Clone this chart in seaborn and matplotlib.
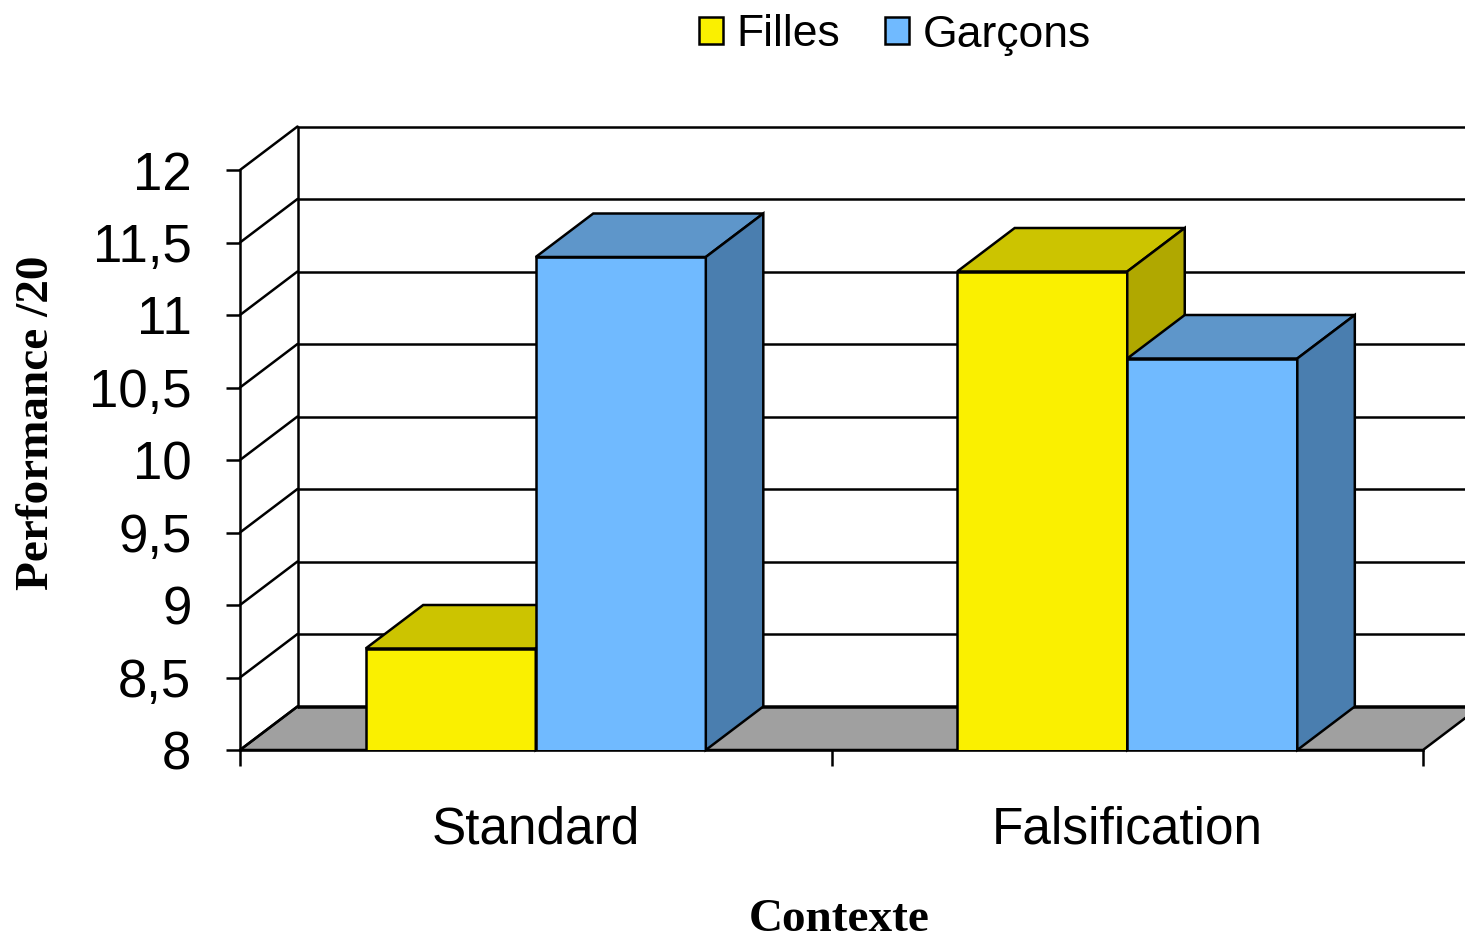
import numpy as np
import pandas as pd
import seaborn as sns
import matplotlib.pyplot as plt
from matplotlib.colors import to_rgb
from matplotlib.patches import Polygon, Patch

# data
contextes = ['Standard', 'Falsification']
groupes = ['Filles', 'Garçons']
filles = [8.7, 11.3]
garcons = [11.4, 10.7]

y_ticks = [8, 8.5, 9, 9.5, 10, 10.5, 11, 11.5, 12]
y_labels = ['8', '8,5', '9', '9,5', '10', '10,5', '11', '11,5', '12']

couleurs = {'Filles': '#FAF000', 'Garçons': '#70BAFF'}
dessus = {'Filles': '#CCC400', 'Garçons': '#5E96CA'}
cote = {'Filles': '#B0A800', 'Garçons': '#4A7EAF'}

data = pd.DataFrame({
    'Contexte': contextes * 2,
    'Sexe': ['Filles'] * 2 + ['Garçons'] * 2,
    'Performance': filles + garcons,
})

sns.set_style('white')
plt.rcParams['font.family'] = ['Liberation Sans', 'DejaVu Sans']
plt.rcParams['text.color'] = 'black'
plt.rcParams['xtick.labelcolor'] = 'black'
plt.rcParams['ytick.labelcolor'] = 'black'

LW = 1.8
W, H = 1465, 940
fig = plt.figure(figsize=(W / 100, H / 100), dpi=100)
ax_px = (240, 190, 1183, 580)  # left, bottom, width, height of the front plane
ax = fig.add_axes([ax_px[0] / W, ax_px[1] / H, ax_px[2] / W, ax_px[3] / H])

sns.barplot(data=data, x='Contexte', y='Performance', hue='Sexe',
            order=contextes, hue_order=groupes, palette=couleurs,
            width=0.575, saturation=1, edgecolor='black', linewidth=LW,
            legend=False, ax=ax)

ax.set_xlim(-0.5, 1.5)
ax.set_ylim(8, 12)

# depth of the 3D effect, converted from pixels to data units
dx = 57.5 / (ax_px[2] / 2.0)
dy = 43.5 / (ax_px[3] / 4.0)
x0, x1 = ax.get_xlim()
y0, y1 = ax.get_ylim()

# floor
ax.add_patch(Polygon([(x0, y0), (x1, y0), (x1 + dx, y0 + dy), (x0 + dx, y0 + dy)],
                     closed=True, facecolor='#A0A0A0', edgecolor='black',
                     linewidth=LW, zorder=1, clip_on=False))
# back wall gridlines and side wall diagonals
for y in y_ticks:
    ax.plot([x0 + dx, x1 + dx + 0.2], [y + dy, y + dy], color='black', lw=LW,
            zorder=1.5, clip_on=False)
    ax.plot([x0, x0 + dx], [y, y + dy], color='black', lw=LW, zorder=1.5, clip_on=False)
ax.plot([x0 + dx, x0 + dx], [y0 + dy, y1 + dy], color='black', lw=LW, zorder=1.5, clip_on=False)

# top and side faces of each bar, painted left to right
bars = sorted(ax.patches[:4], key=lambda p: p.get_x())
for i, p in enumerate(bars):
    g = 'Filles' if np.allclose(p.get_facecolor()[:3], to_rgb(couleurs['Filles'])) else 'Garçons'
    a, b = p.get_x(), p.get_x() + p.get_width()
    h = p.get_height()
    z = 3 + i
    p.set_zorder(z)
    ax.add_patch(Polygon([(a, h), (b, h), (b + dx, h + dy), (a + dx, h + dy)], closed=True,
                         facecolor=dessus[g], edgecolor='black', linewidth=LW,
                         zorder=z + 0.5, clip_on=False))
    ax.add_patch(Polygon([(b, y0), (b, h), (b + dx, h + dy), (b + dx, y0 + dy)], closed=True,
                         facecolor=cote[g], edgecolor='black', linewidth=LW,
                         zorder=z + 0.5, clip_on=False))

ax.spines[['top', 'right']].set_visible(False)
for s in ['left', 'bottom']:
    ax.spines[s].set_color('black')
    ax.spines[s].set_linewidth(LW)
    ax.spines[s].set_zorder(2)

ax.set_yticks(y_ticks, y_labels)
ax.tick_params(axis='y', left=True, length=10, width=LW, color='black',
               pad=25, labelsize=38)
ax.set_xticks([0, 1], contextes)
ax.set_xticks([-0.5, 0.5, 1.5], minor=True)
ax.tick_params(axis='x', which='major', length=0, pad=40, labelsize=37)
ax.tick_params(axis='x', which='minor', bottom=True, length=11.5, width=LW, color='black')
ax.set_xlabel('')
ax.set_ylabel('')

fig.text(37 / W, 1 - 423 / H, 'Performance /20', rotation=90, ha='center', va='center',
         family=['Liberation Serif'], weight='bold', fontsize=34)
fig.text(839 / W, 1 - 920 / H, 'Contexte', ha='center', va='center',
         family=['Liberation Serif'], weight='bold', fontsize=34)

handles = [Patch(facecolor=couleurs[g], edgecolor='black', linewidth=LW) for g in groupes]
fig.legend(handles, groupes, loc='center', bbox_to_anchor=(895 / W, 1 - 35 / H), ncol=2,
           frameon=False, fontsize=32, handlelength=0.55, handleheight=0.55,
           handletextpad=0.3, columnspacing=1.0, borderpad=0)

fig.savefig('out.png', dpi=100)
